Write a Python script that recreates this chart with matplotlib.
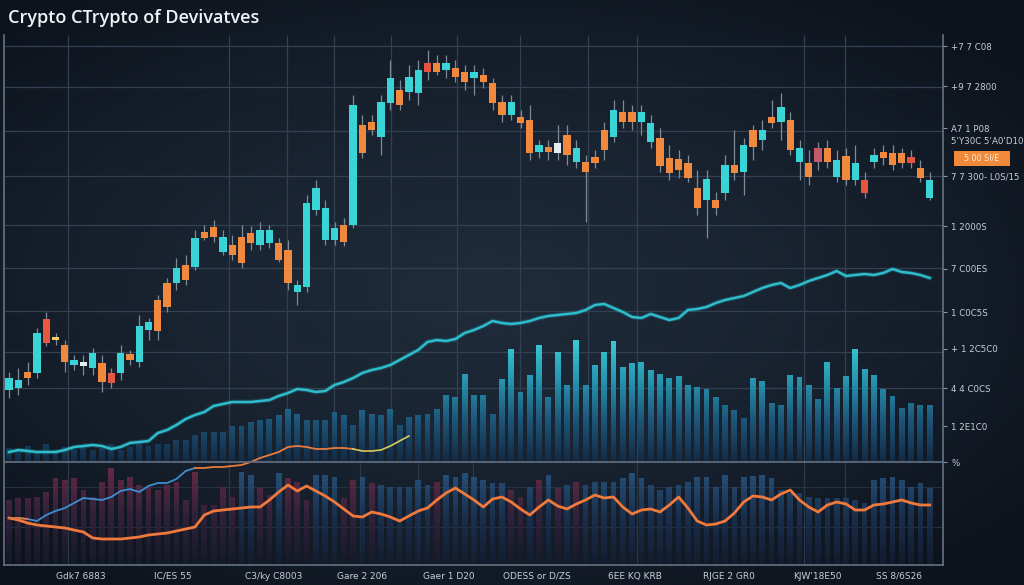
import numpy as np
import matplotlib
matplotlib.use("Agg")
import matplotlib.pyplot as plt
from matplotlib.colors import LinearSegmentedColormap
from matplotlib.path import Path
from matplotlib.patches import PathPatch, Rectangle
from matplotlib.transforms import Affine2D, blended_transform_factory

# ---------------- data ----------------
title = "Crypto CTrypto of Devivatves"

open_ = [72, 74, 90, 89, 143, 125, 117, 97, 100, 94,
         99, 89, 89, 108, 100, 132, 162, 179, 179, 197,
         195, 230, 235, 210, 217, 225, 229, 217, 219, 219,
         212, 170, 175, 252, 222, 222, 237, 237, 337, 340,
         325, 359, 372, 370, 369, 399, 399, 392, 394, 390,
         384, 387, 379, 360, 347, 345, 342, 310, 315, 309,
         327, 300, 300, 305, 332, 325, 350, 350, 340, 320,
         324, 304, 303, 299, 274, 262, 262, 269, 297, 290,
         332, 322, 345, 340, 342, 300, 299, 314, 314, 285,
         306, 282, 282, 300, 310, 309, 309, 305, 294, 264]
close_ = [84, 82, 84, 129, 119, 122, 100, 102, 96, 109,
          80, 79, 109, 102, 136, 140, 131, 155, 194, 182,
          224, 224, 225, 225, 207, 199, 219, 232, 232, 202,
          179, 177, 259, 274, 254, 234, 220, 357, 309, 332,
          360, 384, 357, 385, 392, 390, 390, 399, 385, 380,
          390, 380, 359, 347, 360, 339, 309, 317, 310, 319,
          307, 314, 290, 299, 312, 352, 340, 340, 350, 339,
          296, 289, 292, 284, 254, 283, 254, 297, 289, 317,
          315, 332, 339, 355, 312, 314, 285, 300, 300, 302,
          282, 299, 269, 307, 304, 297, 299, 299, 284, 282]
high_ = [90, 94, 100, 134, 150, 129, 122, 107, 107, 114,
         107, 94, 117, 112, 147, 144, 167, 184, 204, 207,
         232, 237, 242, 232, 227, 237, 236, 240, 237, 224,
         222, 182, 267, 282, 262, 240, 244, 367, 347, 347,
         367, 402, 382, 397, 402, 412, 407, 407, 402, 397,
         397, 394, 384, 367, 367, 352, 357, 322, 322, 337,
         337, 322, 307, 312, 340, 362, 362, 357, 357, 347,
         334, 317, 312, 307, 292, 292, 270, 307, 332, 324,
         337, 342, 362, 369, 350, 322, 312, 320, 322, 312,
         314, 317, 290, 314, 317, 317, 314, 312, 302, 290]
low_ = [64, 67, 77, 84, 116, 117, 90, 92, 87, 87,
        70, 74, 82, 97, 95, 122, 122, 150, 172, 177,
        192, 222, 220, 207, 202, 194, 212, 212, 214, 200,
        172, 157, 170, 247, 217, 217, 216, 234, 304, 327,
        307, 352, 352, 362, 357, 382, 387, 384, 380, 372,
        367, 374, 352, 340, 342, 334, 302, 304, 302, 302,
        297, 294, 240, 294, 302, 320, 334, 332, 327, 314,
        290, 282, 284, 280, 247, 224, 247, 262, 282, 267,
        302, 312, 334, 322, 307, 282, 277, 292, 294, 280,
        277, 277, 264, 294, 297, 292, 294, 294, 280, 262]

volume = [14, 12, 16, 10, 18, 12, 15, 13, 16, 12,
          14, 18, 12, 15, 20, 16, 18, 18, 22, 22,
          27, 30, 30, 30, 36, 36, 40, 42, 43, 47,
          53, 48, 42, 42, 42, 50, 47, 37, 52, 48,
          47, 53, 37, 45, 47, 48, 53, 67, 65, 88,
          67, 67, 48, 83, 113, 70, 87, 117, 65, 110,
          77, 122, 77, 97, 110, 121, 95, 99, 100, 92,
          88, 84, 86, 77, 75, 73, 65, 57, 52, 44,
          84, 81, 59, 57, 87, 85, 77, 63, 100, 74,
          86, 113, 93, 87, 73, 66, 54, 59, 57, 57]

trend = [10, 12, 11, 10, 10, 10, 12, 15, 16, 17,
         16, 13, 15, 19, 20, 21, 29, 32, 37, 43,
         47, 50, 56, 58, 60, 60, 60, 61, 62, 66,
         69, 73, 72, 70, 71, 77, 80, 84, 89, 92,
         94, 97, 102, 107, 112, 120, 122, 121, 123, 129,
         132, 136, 141, 139, 138, 139, 141, 144, 146, 147,
         148, 149, 152, 157, 158, 154, 150, 145, 144, 148,
         145, 142, 144, 152, 153, 155, 159, 162, 164, 166,
         170, 174, 177, 179, 174, 177, 181, 184, 187, 191,
         186, 187, 188, 187, 189, 193, 190, 189, 187, 184]

osc_bars = [-38, -36, -36, -35, -30, -16, -18, -16, -28, -35,
            -20, -6, -18, -15, -23, -25, -28, -23, -20, -38,
            -10, -43, -43, -25, -35, -10, -13, -26, -33, -11,
            -16, -20, -38, -13, -13, -15, -36, -18, -15, -21,
            -23, -25, -25, -25, -18, -23, -20, -13, -15, -11,
            -15, -18, -21, -21, -28, -35, -25, -18, -13, -26,
            -23, -20, -23, -20, -20, -20, -16, -11, -16, -23,
            -28, -25, -23, -20, -15, -15, -25, -13, -25, -15,
            -14, -13, -16, -28, -31, -31, -35, -36, -36, -36,
            -36, -38, -41, -18, -16, -15, -18, -25, -21, -26]
osc_side = ("RRRRRRRRRRRRRRRRRRRRRRRRRBBRRBRRRBBBRRBRBBBBBBRBBBBBBBRRBRBRBR"
            "BBBBBBBBBBBBBBBBBBBBBBBBBBBBBBBBBBBBBB")

osc_line = [-56, -58, -61, -63, -64, -65, -66, -68, -70, -76,
            -77, -77, -77, -76, -75, -73, -72, -71, -69, -67,
            -65, -53, -49, -48, -47, -46, -45, -45, -38, -30,
            -23, -29, -24, -29, -34, -40, -47, -54, -55, -50,
            -52, -55, -59, -54, -49, -46, -38, -31, -26, -32,
            -38, -45, -37, -35, -40, -47, -53, -45, -38, -44,
            -47, -42, -38, -33, -36, -35, -45, -52, -48, -47,
            -50, -43, -35, -46, -59, -63, -62, -59, -51, -40,
            -34, -35, -38, -32, -28, -38, -45, -50, -43, -40,
            -42, -48, -48, -43, -42, -40, -38, -41, -43, -43]

signal_line = [-56, -56, -57, -59, -53, -49, -46, -41, -36, -37,
               -38, -35, -29, -27, -30, -24, -21, -21, -17, -9,
               -6, -6, -5, -5, -4, -3, 0, 4, 7, 10,
               15, 16, 15, 13, 13, 14, 14, 13, 11, 11,
               12, 16, 21, 26]

right_ticks = [416, 376, 334, 286, 236, 193, 150, 113, 74, 36, 0]
right_labels = ["+7 7 C08", "+9 7 2800", "A7 1 P08", "7 7 300- L0S/15",
                "1 2000S", "7 C00ES", "1 C0C5S", "+ 1 2C5C0", "4 4 C0CS",
                "1 2E1C0", "%"]
extra_label = "5'Y30C 5'A0'D10"
box_label = "5 00 SI/E"

x_label_pos = [7.74, 17.63, 28.49, 37.96, 47.31, 56.77, 67.31, 77.42, 86.88, 95.70]
x_labels = ["Gdk7 6883", "IC/ES 55", "C3/ky C8003", "Gare 2 206", "Gaer 1 D20",
            "ODESS or D/ZS", "6EE KQ KRB", "RJGE 2 GR0", "KJW'18E50", "SS 8/6S26"]

# ---------------- style ----------------
W, H = 1024, 585
UP = "#38d4d6"
DOWN = "#f0883e"
accent = {4: "#e8573f", 5: "#f1d15e", 8: "#e6ecef", 11: "#e35a44", 45: "#e4553f",
          59: "#e6ecef", 87: "#c25a6a", 92: "#e4553f", 97: "#e4553f"}
hgrid = [416, 375, 331, 286, 237, 194, 151, 110, 74]
vgrid_top = [6.34, 23.66, 29.9, 34.95, 41.08, 48.17, 54.95, 62.26, 67.53, 85.48, 89.89]
vgrid_bot = [6.34, 23.66, 37.74, 43.98, 49.9, 67.53, 85.48, 89.89]
XMIN, XMAX = -0.54, 100.43
YMIN, YMAX = -103, 427

fig = plt.figure(figsize=(W / 100, H / 100), dpi=100)

# background gradient
bg = fig.add_axes([0, 0, 1, 1])
bg.axis("off")
yy, xx = np.mgrid[0:1:300j, 0:1:500j]
r = np.sqrt(((xx - 0.47) / 0.8) ** 2 + ((yy - 0.5) / 0.75) ** 2)
bgcmap = LinearSegmentedColormap.from_list("bg", ["#202c3c", "#18222f", "#0d131c"])
bg.imshow(r, cmap=bgcmap, aspect="auto", extent=[0, 1, 0, 1], vmin=0, vmax=0.85, origin="lower")

ax = fig.add_axes([4 / W, 20 / H, 939 / W, 530 / H])
ax.set_facecolor("none")
N = len(open_)
x = np.arange(N)
o = np.array(open_, float)
c = np.array(close_, float)
hi = np.array(high_, float)
lo = np.array(low_, float)

# grid
gcol = "#334051"
ax.hlines(hgrid, XMIN, XMAX, color=gcol, lw=0.9, zorder=0)
ax.hlines([-25, -65], XMIN, XMAX, color="#253142", lw=0.8, zorder=0)
ax.vlines(vgrid_top, 0, YMAX, color=gcol, lw=0.9, zorder=0)
ax.vlines(vgrid_bot, YMIN, 0, color="#2c3848", lw=0.9, zorder=0)


def gradient_bars(xs, tops, bottom, width, cmap, y0, y1, alpha=1.0, z=1):
    rects = []
    for xi, t in zip(xs, tops):
        hgt = t - bottom
        rects.append(Path.unit_rectangle().transformed(
            Affine2D().scale(width, hgt).translate(xi - width / 2, bottom)))
    if not rects:
        return
    cp = Path.make_compound_path(*rects)
    patch = PathPatch(cp, transform=ax.transData, fc="none", ec="none")
    ax.add_patch(patch)
    grad = np.linspace(0, 1, 256).reshape(-1, 1)
    im = ax.imshow(grad, extent=[XMIN, XMAX, y0, y1], origin="lower", aspect="auto",
                   cmap=cmap, alpha=alpha, zorder=z, interpolation="bilinear")
    im.set_clip_path(patch)


# volume bars (main panel)
volcmap = LinearSegmentedColormap.from_list("vol", ["#132a44", "#1d5579", "#2797b0", "#3cd0d8"])
gradient_bars(x, volume, 0, 0.64, volcmap, 0, 125, z=1)

# oscillator bars (bottom panel)
redcmap = LinearSegmentedColormap.from_list("red", ["#161a2a", "#36233e", "#762c48"])
bluecmap = LinearSegmentedColormap.from_list("blu", ["#141d31", "#1c3354", "#2a5d8c"])
xr = [i for i in x if osc_side[i] == "R"]
xb = [i for i in x if osc_side[i] == "B"]
gradient_bars(xr, [osc_bars[i] for i in xr], YMIN, 0.62, redcmap, YMIN, -5, alpha=0.85, z=1)
gradient_bars(xb, [osc_bars[i] for i in xb], YMIN, 0.62, bluecmap, YMIN, -5, alpha=0.85, z=1)

# trend line
ax.plot(x, trend, color="#1f7f92", lw=3.4, alpha=0.35, zorder=3)
ax.plot(x, trend, color="#2fbccb", lw=1.8, zorder=3)

# candles
ax.vlines(x, lo, hi, color="#7d8b99", lw=0.9, zorder=4)
bottoms = np.minimum(o, c)
heights = np.maximum(np.abs(c - o), 3)
cols = [accent.get(i, UP if c[i] >= o[i] else DOWN) for i in range(N)]
ax.bar(x, heights, bottom=bottoms, width=0.78, color=cols, zorder=5, linewidth=0)

# oscillator lines
ax.plot(x, osc_line, color="#f07a3c", lw=2.0, zorder=6)
sl = np.array(signal_line, float)
xs = np.arange(len(sl))
ax.plot(xs[:21], sl[:21], color="#3d8fd2", lw=1.3, zorder=6)
ax.plot(xs[:3], sl[:3], color="#e8753a", lw=1.3, zorder=6)
ax.plot(xs[20:38], sl[20:38], color="#ea7b3e", lw=1.3, zorder=6)
ax.plot(xs[37:], sl[37:], color="#d8cb5c", lw=1.2, zorder=6)

# separator between panels
ax.axhline(0, color="#5c6b7c", lw=1.3, zorder=7)

ax.set_xlim(XMIN, XMAX)
ax.set_ylim(YMIN, YMAX)

for s in ["left", "right", "bottom"]:
    ax.spines[s].set_color("#6b7a8b")
    ax.spines[s].set_linewidth(1.1)
ax.spines["top"].set_visible(False)

ax.yaxis.tick_right()
ax.set_yticks(right_ticks)
ax.set_yticklabels(right_labels)
ax.tick_params(axis="y", length=3, width=0.8, color="#8a96a4", pad=3,
               labelsize=6.2, labelcolor="#c6ced8")
ax.set_xticks(x_label_pos)
ax.set_xticklabels(x_labels)
ax.tick_params(axis="x", length=0, pad=5, labelsize=6.5, labelcolor="#c6ced8")

tr = blended_transform_factory(ax.transAxes, ax.transData)
ax.text(1.009, 321, extra_label, transform=tr, fontsize=6.2, color="#c6ced8",
        va="center", ha="left")

fig.patches.append(Rectangle((954 / W, 1 - 166 / H), 56 / W, 15 / H,
                             transform=fig.transFigure, facecolor="#f0893a",
                             edgecolor="none"))
fig.text(982 / W, 1 - 158.5 / H, box_label, fontsize=5.8, color="#fde9d8",
         ha="center", va="center")

fig.text(8 / W, 1 - 18 / H, title, fontsize=13, color="#f1f4f7", fontweight="semibold",
         family=["Open Sans", "DejaVu Sans"], va="center", ha="left")

fig.savefig("out.png", dpi=100)
